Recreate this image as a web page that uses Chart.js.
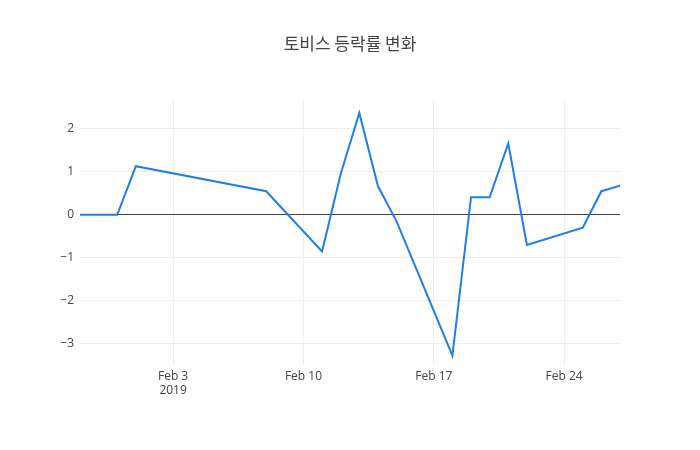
<!DOCTYPE html>
<html>
<head>
<meta charset="utf-8">
<script src="https://cdn.jsdelivr.net/npm/chart.js@4"></script>
<style>
  body { margin: 0; background: #fff; }
</style>
</head>
<body>
<canvas id="chart" width="700" height="450"></canvas>
<script>
// day offsets from Jan 29 2019
const days = [0, 2, 3, 10, 13, 14, 15, 16, 17, 20, 21, 22, 23, 24, 27, 28, 29];
const changes = [0, 0, 1.13, 0.55, -0.85, 0.95, 2.37, 0.67, -0.15, -3.27, 0.41, 0.41, 1.66, -0.7, -0.3, 0.55, 0.68];
const tickDays = [5, 12, 19, 26];
const tickLabels = [['Feb 3', '2019'], 'Feb 10', 'Feb 17', 'Feb 24'];
const yTicks = [-3, -2, -1, 0, 1, 2];

const titlePlugin = {
    id: 'titleText',
    afterDraw(chart) {
        const ctx = chart.ctx;
        ctx.save();
        ctx.font = '17px "Noto Sans CJK KR", "Open Sans", sans-serif';
        ctx.fillStyle = '#444';
        ctx.textAlign = 'center';
        ctx.textBaseline = 'middle';
        ctx.fillText('토비스 등락률 변화', 350, 44);
        ctx.restore();
    }
};

new Chart(document.getElementById('chart').getContext('2d'), {
    type: 'line',
    data: {
        datasets: [{
            data: days.map((d, i) => ({ x: d, y: changes[i] })),
            borderColor: '#1f7fe5',
            borderWidth: 2,
            pointRadius: 0,
            tension: 0
        }]
    },
    options: {
        responsive: false,
        animation: false,
        devicePixelRatio: 1,
        layout: { padding: { top: 100, right: 80, left: 0, bottom: 0 } },
        plugins: { legend: { display: false }, tooltip: { enabled: false } },
        scales: {
            x: {
                type: 'linear',
                min: 0,
                max: 29,
                afterBuildTicks: axis => { axis.ticks = tickDays.map(v => ({ value: v })); },
                afterFit: axis => { axis.height = 85; },
                ticks: {
                    color: '#444',
                    font: { family: 'Open Sans', size: 12 },
                    padding: 4,
                    maxRotation: 0,
                    autoSkip: false,
                    callback: (v) => tickLabels[tickDays.indexOf(v)]
                },
                grid: { color: '#eee', drawTicks: false },
                border: { display: false }
            },
            y: {
                min: -3.49,
                max: 2.67,
                afterBuildTicks: axis => { axis.ticks = yTicks.map(v => ({ value: v })); },
                afterFit: axis => { axis.width = 80; },
                ticks: {
                    color: '#444',
                    font: { family: 'Open Sans', size: 12 },
                    padding: 6,
                    callback: v => v < 0 ? '\u2212' + Math.abs(v) : String(v)
                },
                grid: {
                    drawTicks: false,
                    color: c => c.tick && c.tick.value === 0 ? '#444' : '#eee',
                    lineWidth: 1
                },
                border: { display: false }
            }
        }
    },
    plugins: [titlePlugin]
});
</script>
</body>
</html>
